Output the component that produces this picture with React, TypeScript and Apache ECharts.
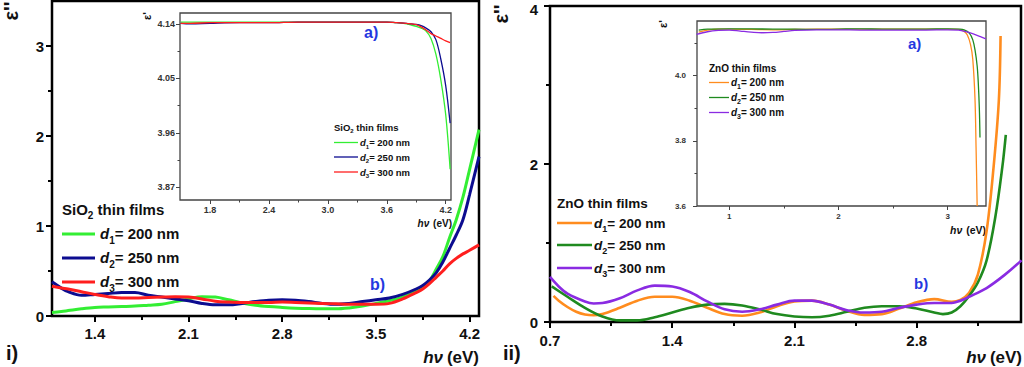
import React, { useEffect, useRef } from "react";
import * as echarts from "echarts";

// ---------- Panel i) SiO2, main plot (epsilon'') ----------
const sio2X = [1.08, 1.15, 1.2, 1.3, 1.4, 1.5, 1.6, 1.7, 1.8, 1.9, 2.0, 2.1, 2.2, 2.3, 2.4, 2.5, 2.6, 2.7, 2.8, 2.9, 3.0, 3.1, 3.2, 3.3, 3.4, 3.5, 3.6, 3.7, 3.8, 3.85, 3.9, 3.95, 4.0, 4.05, 4.1, 4.15, 4.2, 4.27];
const sio2D1 = [0.04, 0.05, 0.06, 0.08, 0.095, 0.1, 0.105, 0.11, 0.12, 0.13, 0.16, 0.19, 0.215, 0.21, 0.18, 0.145, 0.12, 0.105, 0.095, 0.087, 0.082, 0.08, 0.08, 0.09, 0.11, 0.14, 0.17, 0.21, 0.28, 0.33, 0.39, 0.52, 0.66, 0.87, 1.07, 1.32, 1.63, 2.07];
const sio2D2 = [0.38, 0.31, 0.27, 0.23, 0.24, 0.25, 0.26, 0.26, 0.23, 0.21, 0.19, 0.17, 0.14, 0.125, 0.125, 0.14, 0.16, 0.175, 0.18, 0.175, 0.16, 0.14, 0.13, 0.14, 0.16, 0.18, 0.2, 0.24, 0.3, 0.34, 0.4, 0.48, 0.6, 0.75, 0.9, 1.07, 1.35, 1.77];
const sio2D3 = [0.33, 0.31, 0.3, 0.27, 0.24, 0.215, 0.2, 0.2, 0.205, 0.21, 0.215, 0.21, 0.19, 0.165, 0.155, 0.15, 0.15, 0.15, 0.155, 0.15, 0.145, 0.14, 0.135, 0.13, 0.13, 0.13, 0.14, 0.19, 0.26, 0.3, 0.36, 0.43, 0.5, 0.58, 0.64, 0.69, 0.73, 0.79];

// ---------- Panel i) SiO2, inset (epsilon') ----------
const sio2InX = [1.5, 1.6, 1.8, 2.1, 2.4, 2.7, 3.0, 3.3, 3.6, 3.7, 3.8, 3.85, 3.9, 3.95, 4.0, 4.05, 4.1, 4.15, 4.2, 4.245];
const sio2InD1 = [4.143, 4.143, 4.143, 4.143, 4.143, 4.143, 4.143, 4.143, 4.143, 4.142, 4.14, 4.138, 4.136, 4.133, 4.128, 4.116, 4.09, 4.048, 3.99, 3.9];
const sio2InD2 = [4.141, 4.14, 4.141, 4.142, 4.142, 4.143, 4.143, 4.143, 4.143, 4.142, 4.141, 4.14, 4.139, 4.137, 4.133, 4.127, 4.114, 4.082, 4.038, 3.976];
const sio2InD3 = [4.141, 4.141, 4.142, 4.142, 4.142, 4.143, 4.143, 4.143, 4.143, 4.142, 4.141, 4.14, 4.139, 4.135, 4.13, 4.124, 4.12, 4.116, 4.112, 4.109];

// ---------- Panel ii) ZnO, main plot (epsilon'') ----------
const znoD1X = [0.72, 0.75, 0.8, 0.85, 0.9, 0.95, 1.0, 1.1, 1.2, 1.3, 1.4, 1.5, 1.6, 1.7, 1.8, 1.9, 2.0, 2.1, 2.2, 2.3, 2.4, 2.5, 2.6, 2.7, 2.8, 2.9, 3.0, 3.05, 3.1, 3.15, 3.2, 3.24, 3.27, 3.28];
const znoD1 = [0.33, 0.27, 0.19, 0.13, 0.095, 0.085, 0.1, 0.18, 0.27, 0.32, 0.32, 0.27, 0.18, 0.1, 0.08, 0.12, 0.2, 0.26, 0.27, 0.22, 0.14, 0.09, 0.1, 0.17, 0.25, 0.29, 0.255, 0.28, 0.37, 0.6, 1.15, 1.96, 2.8, 3.62];
const znoD2X = [0.71, 0.8, 0.9, 1.0, 1.1, 1.2, 1.3, 1.4, 1.5, 1.6, 1.7, 1.8, 1.9, 2.0, 2.1, 2.2, 2.3, 2.4, 2.5, 2.6, 2.7, 2.8, 2.9, 2.95, 3.0, 3.05, 3.1, 3.15, 3.2, 3.25, 3.29, 3.31];
const znoD2 = [0.45, 0.32, 0.18, 0.07, 0.02, 0.02, 0.06, 0.12, 0.18, 0.22, 0.23, 0.21, 0.16, 0.1, 0.07, 0.06, 0.08, 0.13, 0.18, 0.2, 0.2, 0.17, 0.12, 0.1, 0.12, 0.2, 0.33, 0.5, 0.78, 1.33, 1.96, 2.37];
const znoD3X = [0.7, 0.75, 0.8, 0.9, 0.95, 1.0, 1.1, 1.2, 1.3, 1.4, 1.5, 1.6, 1.7, 1.8, 1.9, 2.0, 2.1, 2.2, 2.3, 2.4, 2.5, 2.6, 2.7, 2.8, 2.9, 3.0, 3.05, 3.1, 3.2, 3.3, 3.4];
const znoD3 = [0.57, 0.45, 0.36, 0.26, 0.235, 0.24, 0.3, 0.4, 0.46, 0.45, 0.38, 0.26, 0.16, 0.13, 0.16, 0.22, 0.27, 0.27, 0.22, 0.15, 0.12, 0.13, 0.18, 0.22, 0.24, 0.24, 0.27, 0.32, 0.43, 0.59, 0.78];

// ---------- Panel ii) ZnO, inset (epsilon') ----------
const znoInD1X = [0.72, 0.8, 0.9, 1.0, 1.2, 1.4, 1.6, 1.8, 2.0, 2.2, 2.4, 2.6, 2.8, 3.0, 3.1, 3.15, 3.18, 3.21, 3.23, 3.25, 3.26, 3.27];
const znoInD1 = [4.134, 4.14, 4.143, 4.143, 4.142, 4.141, 4.142, 4.143, 4.143, 4.143, 4.143, 4.143, 4.143, 4.143, 4.142, 4.136, 4.125, 4.095, 4.05, 3.93, 3.78, 3.6];
const znoInD2X = [0.72, 0.8, 1.0, 1.2, 1.4, 1.6, 1.8, 2.0, 2.2, 2.4, 2.6, 2.8, 3.0, 3.1, 3.15, 3.2, 3.23, 3.25, 3.27, 3.28, 3.29, 3.296];
const znoInD2 = [4.14, 4.143, 4.144, 4.144, 4.143, 4.143, 4.142, 4.143, 4.144, 4.143, 4.143, 4.143, 4.144, 4.143, 4.141, 4.13, 4.11, 4.08, 4.03, 3.98, 3.9, 3.81];
const znoInD3X = [0.7, 0.8, 0.9, 1.0, 1.1, 1.2, 1.3, 1.4, 1.5, 1.6, 1.8, 2.0, 2.2, 2.4, 2.6, 2.8, 3.0, 3.1, 3.2, 3.3, 3.35];
const znoInD3 = [4.127, 4.135, 4.139, 4.14, 4.137, 4.134, 4.132, 4.133, 4.136, 4.139, 4.141, 4.141, 4.14, 4.14, 4.14, 4.14, 4.141, 4.14, 4.132, 4.12, 4.113];

// ---------- Ticks ----------
const mainIXTicks = [1.4, 2.1, 2.8, 3.5, 4.2];
const mainIXMinor = [1.75, 2.45, 3.15, 3.85];
const mainIYTicks = [0, 1, 2, 3];
const mainIYMinor = [0.5, 1.5, 2.5];
const inIXTicks = [1.8, 2.4, 3.0, 3.6, 4.2];
const inIXMinor = [2.1, 2.7, 3.3, 3.9];
const inIYTicks = [3.87, 3.96, 4.05, 4.14];
const inIYMinor = [3.915, 4.005, 4.095];
const mainIIXTicks = [0.7, 1.4, 2.1, 2.8];
const mainIIXMinor = [1.05, 1.75, 2.45, 3.15];
const mainIIYTicks = [0, 2, 4];
const mainIIYMinor = [1, 3];
const inIIXTicks = [1, 2, 3];
const inIIXMinor = [1.5, 2.5];
const inIIYTicks = [3.6, 3.8, 4.0];
const inIIYMinor = [3.7, 3.9, 4.1];

const legendLabels = ["200 nm", "250 nm", "300 nm"];

const FONT = '"Liberation Sans", Arial, sans-serif';
const SIO2_COLORS = ["#33ee33", "#0c0c90", "#ff1e1e"];
const ZNO_COLORS = ["#ff8c1e", "#1f8a1f", "#8a2be2"];
const LABEL_BLUE = "#2438e0";

const pairs = (xs: number[], ys: number[]) => xs.map((x, i) => [x, ys[i]]);

function axisPair(
  dim: "x" | "y",
  grid: number,
  min: number,
  max: number,
  major: number[],
  minor: number[],
  fmt: (v: number) => string,
  o: { fs: number; margin: number; len: number; mlen: number; w: number; color: string; labelColor: string; rich?: any }
) {
  const position = dim === "x" ? "bottom" : "left";
  const base = {
    type: "value",
    gridIndex: grid,
    min,
    max,
    position,
    axisLine: { show: false },
    splitLine: { show: false },
  };
  return [
    {
      ...base,
      axisTick: { show: true, inside: false, length: o.len, lineStyle: { color: o.color, width: o.w }, customValues: major },
      axisLabel: {
        show: true,
        customValues: major,
        formatter: (v: number) => fmt(v),
        fontSize: o.fs,
        fontWeight: "bold",
        fontFamily: FONT,
        color: o.labelColor,
        margin: o.margin,
        ...(o.rich ? { rich: o.rich } : {}),
      },
    },
    {
      ...base,
      axisTick: { show: true, inside: false, length: o.mlen, lineStyle: { color: o.color, width: o.w }, customValues: minor },
      axisLabel: { show: false },
    },
  ];
}

function line(xi: number, data: number[][], color: string, width: number) {
  return {
    type: "line",
    xAxisIndex: xi,
    yAxisIndex: xi,
    data,
    showSymbol: false,
    symbol: "none",
    smooth: 0.35,
    lineStyle: { color, width },
    silent: true,
  };
}

function txt(x: number, y: number, text: string, rich: any, align = "left", rotation = 0) {
  return {
    type: "text",
    x,
    y,
    rotation,
    style: {
      text,
      rich,
      align,
      verticalAlign: "middle",
      textAlign: align,
      textVerticalAlign: "middle",
      font: `bold 14px ${FONT}`,
      fill: "#111",
    },
  };
}

function legendBlock(
  title: [string, string, string],
  x: number,
  titleY: number,
  rowYs: number[],
  lineX2: number,
  textX: number,
  fs: number,
  colors: string[],
  lw: number
) {
  const sub = Math.round(fs * 0.68);
  const lh = Math.round(fs * 1.25);
  const rich = {
    n: { fontSize: fs, fontWeight: "bold", fontFamily: FONT, fill: "#111", lineHeight: lh, verticalAlign: "top" },
    d: { fontSize: fs, fontWeight: "bold", fontStyle: "italic", fontFamily: FONT, fill: "#111", lineHeight: lh, verticalAlign: "top" },
    s: { fontSize: sub, fontWeight: "bold", fontFamily: FONT, fill: "#111", lineHeight: sub, verticalAlign: "bottom" },
  };
  const els: any[] = [txt(x, titleY, `{n|${title[0]}}{s|${title[1]}}{n|${title[2]}}`, rich)];
  rowYs.forEach((y, i) => {
    els.push({
      type: "line",
      shape: { x1: x, y1: y, x2: lineX2, y2: y },
      style: { stroke: colors[i], lineWidth: lw },
    });
    els.push(txt(textX, y + fs * 0.12, `{d|d}{s|${i + 1}}{n|= ${legendLabels[i]}}`, rich));
  });
  return els;
}

function hvLabel(x: number, y: number, fs: number) {
  const rich = {
    i: { fontSize: fs, fontWeight: "bold", fontStyle: "italic", fontFamily: FONT, fill: "#111" },
    n: { fontSize: fs, fontWeight: "bold", fontFamily: FONT, fill: "#111" },
  };
  return txt(x, y, "{i|hν} {n|(eV)}", rich, "right");
}

function epsLabel(x: number, y: number, fs: number, primes: string) {
  const rich = { n: { fontSize: fs, fontWeight: "bold", fontFamily: FONT, fill: "#111" } };
  return txt(x, y, `{n|ε${primes}}`, rich, "center", Math.PI / 2);
}

function plain(x: number, y: number, text: string, fs: number, color: string, align = "left") {
  const rich = { n: { fontSize: fs, fontWeight: "bold", fontFamily: FONT, fill: color } };
  return txt(x, y, `{n|${text}}`, rich, align);
}

export default function App() {
  const ref = useRef<HTMLDivElement>(null);
  useEffect(() => {
    if (!ref.current) return;
    const chart = echarts.init(ref.current, undefined, { renderer: "svg" });

    const mainStyle = { fs: 15, margin: 9, len: 6, mlen: 4, w: 2, color: "#000", labelColor: "#111" };
    const inStyleI = { fs: 9, margin: 5, len: 4, mlen: 2.5, w: 1, color: "#444", labelColor: "#333" };
    const inStyleII = { fs: 8, margin: 8, len: 4, mlen: 2.5, w: 1, color: "#444", labelColor: "#333" };
    const f1 = (v: number) => v.toFixed(1);
    const f2 = (v: number) => v.toFixed(2);
    const f0 = (v: number) => String(Math.round(v));
    // top label of panel ii) y axis is nudged down so that it stays inside the page
    const fTop = (v: number) => (v >= 4 ? `{t|${Math.round(v)}}` : String(Math.round(v)));
    const topRich = { t: { fontSize: 15, fontWeight: "bold", fontFamily: FONT, color: "#111", padding: [6, 0, 0, 0] } };

    const xAxis = [
      ...axisPair("x", 0, 1.08, 4.27, mainIXTicks, mainIXMinor, f1, { ...mainStyle, margin: 10 }),
      ...axisPair("x", 1, 1.494, 4.254, inIXTicks, inIXMinor, f1, inStyleI),
      ...axisPair("x", 2, 0.7, 3.397, mainIIXTicks, mainIIXMinor, f1, { ...mainStyle, margin: 11 }),
      ...axisPair("x", 3, 0.704, 3.351, inIIXTicks, inIIXMinor, f0, { ...inStyleII, margin: 6 }),
    ];
    const yAxis = [
      ...axisPair("y", 0, 0, 3.5, mainIYTicks, mainIYMinor, f0, { ...mainStyle, margin: 8 }),
      ...axisPair("y", 1, 3.849, 4.158, inIYTicks, inIYMinor, f2, inStyleI),
      ...axisPair("y", 2, 0, 4, mainIIYTicks, mainIIYMinor, fTop, { ...mainStyle, margin: 12, rich: topRich }),
      ...axisPair("y", 3, 3.6, 4.168, inIIYTicks, inIIYMinor, f1, { ...inStyleII, margin: 11 }),
    ];

    const mainGrid = { show: true, borderColor: "#000", borderWidth: 2.5, backgroundColor: "transparent", outerBoundsMode: "none", containLabel: false };
    const inGrid = { show: true, borderColor: "#444", borderWidth: 1.3, backgroundColor: "transparent", outerBoundsMode: "none", containLabel: false };

    const option: any = {
      animation: false,
      grid: [
        { ...mainGrid, left: 52, top: 1, width: 427, height: 315 },
        { ...inGrid, left: 180, top: 13, width: 271, height: 187 },
        { ...mainGrid, left: 550, top: 6, width: 471, height: 316 },
        { ...inGrid, left: 697, top: 21, width: 289, height: 185 },
      ],
      xAxis,
      yAxis,
      series: [
        line(0, pairs(sio2X, sio2D1), SIO2_COLORS[0], 3),
        line(0, pairs(sio2X, sio2D2), SIO2_COLORS[1], 3),
        line(0, pairs(sio2X, sio2D3), SIO2_COLORS[2], 3),
        line(2, pairs(sio2InX, sio2InD1), SIO2_COLORS[0], 1.3),
        line(2, pairs(sio2InX, sio2InD2), SIO2_COLORS[1], 1.3),
        line(2, pairs(sio2InX, sio2InD3), SIO2_COLORS[2], 1.3),
        line(4, pairs(znoD1X, znoD1), ZNO_COLORS[0], 2.6),
        line(4, pairs(znoD2X, znoD2), ZNO_COLORS[1], 2.6),
        line(4, pairs(znoD3X, znoD3), ZNO_COLORS[2], 2.6),
        line(6, pairs(znoInD1X, znoInD1), ZNO_COLORS[0], 1.3),
        line(6, pairs(znoInD2X, znoInD2), ZNO_COLORS[1], 1.3),
        line(6, pairs(znoInD3X, znoInD3), ZNO_COLORS[2], 1.3),
      ],
      graphic: [
        // panel labels
        plain(6, 353, "i)", 20, "#111"),
        plain(503, 353, "ii)", 20, "#111"),
        // axis names
        hvLabel(479, 357, 17),
        hvLabel(1022, 357, 17),
        hvLabel(452, 223, 10),
        hvLabel(986, 230, 10.5),
        epsLabel(11, 11, 20, "''"),
        epsLabel(501, 14, 20, "''"),
        epsLabel(147, 16, 11, "'"),
        epsLabel(663, 24, 11, "'"),
        // a) / b)
        plain(364, 32, "a)", 16, LABEL_BLUE),
        plain(370, 284, "b)", 16, LABEL_BLUE),
        plain(908, 43, "a)", 15, LABEL_BLUE),
        plain(914, 283, "b)", 15, LABEL_BLUE),
        // legends
        ...legendBlock(["SiO", "2", " thin films"], 62, 211, [234, 258, 282], 95, 100, 15, SIO2_COLORS, 3),
        ...legendBlock(["ZnO thin films", "", ""], 557, 205, [223, 245, 268], 592, 594, 13.5, ZNO_COLORS, 2.6),
        ...legendBlock(["SiO", "2", " thin films"], 334, 128, [142.5, 157, 172], 358, 360, 9.5, SIO2_COLORS, 1.3),
        ...legendBlock(["ZnO thin films", "", ""], 709, 70, [82.5, 97.5, 112.5], 729, 731, 10, ZNO_COLORS, 1.3),
      ],
    };
    chart.setOption(option);
    return () => chart.dispose();
  }, []);
  return (
    <div
      ref={ref}
      style={{ position: "absolute", left: 0, top: 0, width: 1024, height: 367, background: "#fff" }}
    />
  );
}
